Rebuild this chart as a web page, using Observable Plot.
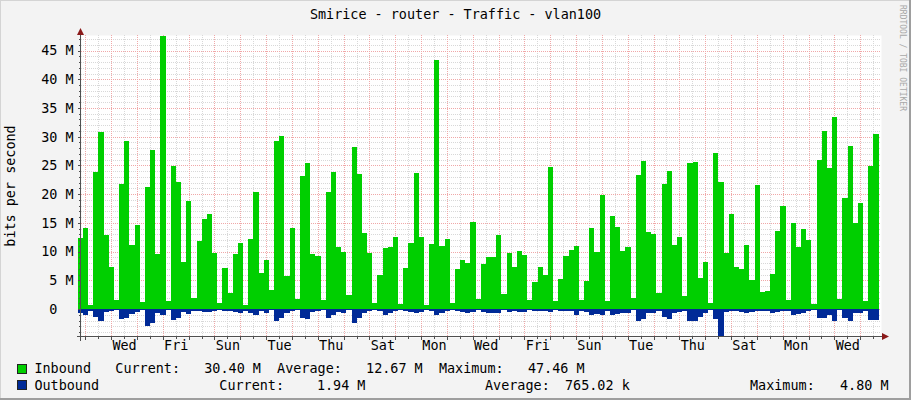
<!DOCTYPE html>
<html><head><meta charset="utf-8">
<script src="https://cdn.jsdelivr.net/npm/d3@7"></script>
<script src="https://cdn.jsdelivr.net/npm/@observablehq/plot@0.6"></script>
<style>
html,body{margin:0;padding:0;background:#F3F3F3;}
#chart{position:relative;width:911px;height:400px;overflow:hidden;}
#chart svg{display:block;}
</style></head><body><div id="chart"></div>
<script>
// Inbound traffic per consolidated sample (Mbit/s)
const inbound = [12.4,14.1,0.75,23.8,30.9,12.9,7.4,1.6,21.8,29.2,11.1,14.6,1.2,21.2,27.7,9.6,47.46,1.4,24.9,22.2,
8.2,18.8,1.9,11.8,15.7,16.5,9.7,1.0,7.1,2.8,9.6,11.5,0.75,12.2,20.4,6.3,8.5,3.3,29.2,30.1,
5.7,14.1,1.7,23.1,25.4,9.6,9.2,1.6,20.4,23.8,10.8,9.9,2.4,28.2,23.5,13.2,9.7,1.0,5.9,10.6,
10.8,12.5,0.9,7.1,11.5,23.7,12.5,0.7,11.3,43.3,11.0,12.2,1.0,7.0,8.5,8.0,15.1,1.7,7.8,9.0,
9.0,12.9,2.6,9.7,7.3,10.1,9.4,1.6,4.7,7.3,5.9,24.7,1.4,5.2,9.2,10.3,11.0,1.6,4.9,14.1,
9.9,19.8,1.4,16.2,14.3,10.1,10.8,1.9,23.3,25.8,13.4,13.1,2.8,21.8,24.0,11.1,12.5,2.3,25.4,25.6,
5.4,8.2,1.0,27.1,22.1,9.7,16.5,7.3,7.0,11.1,5.0,21.6,3.0,3.1,6.1,13.6,17.9,1.6,15.0,10.8,
13.9,12.0,0.9,25.9,31.0,24.5,33.4,1.7,19.3,28.4,15.0,18.4,1.4,24.9,30.4];
// Outbound traffic per consolidated sample (Mbit/s), drawn below zero
const outbound = [0.7,1.1,0.3,1.3,2.0,0.5,0.3,0.2,1.8,1.6,0.8,0.5,0.2,3.0,2.4,0.6,1.0,0.2,1.9,1.6,
0.5,0.9,0.35,0.4,0.5,0.5,0.4,0.2,0.3,0.4,0.5,0.75,0.3,0.75,1.1,0.4,0.7,0.2,2.1,1.5,
0.7,0.4,0.2,1.6,1.8,0.5,0.4,0.2,1.5,1.1,0.5,0.6,0.2,2.5,1.5,0.6,0.4,0.2,0.35,1.0,
0.6,0.4,0.2,0.4,0.5,0.75,0.5,0.2,0.4,1.0,0.7,0.4,0.2,0.4,0.5,0.7,0.5,0.2,0.5,0.7,
0.7,0.7,0.2,0.5,0.4,0.5,0.5,0.2,0.3,0.4,0.35,0.5,0.2,0.3,0.4,0.4,1.1,0.3,0.5,1.0,
0.9,1.0,0.3,1.1,0.8,0.65,0.65,0.2,2.0,1.8,0.7,0.6,0.35,1.3,1.7,0.6,0.5,0.3,2.0,2.1,
1.3,0.6,0.2,1.8,4.8,0.5,0.4,0.4,0.5,0.7,0.5,0.4,0.3,0.4,0.6,0.5,0.4,0.3,1.0,0.9,
0.7,0.4,0.2,1.5,1.5,1.1,2.0,0.2,1.5,2.0,0.75,0.7,0.4,1.9,1.94];
const firstSampleStart = -0.289;   // days, relative to first midnight shown
const sampleStep = 0.2;            // days per consolidated sample
const dayLabels = ["Wed","Fri","Sun","Tue","Thu","Sat","Mon","Wed","Fri","Sun","Tue","Thu","Sat","Mon","Wed"];
const dayLabelAt = [1.5,3.5,5.5,7.5,9.5,11.5,13.5,15.5,17.5,19.5,21.5,23.5,25.5,27.5,29.5];
const yTickLabels = ["0\u00a0\u00a0","5 M","10 M","15 M","20 M","25 M","30 M","35 M","40 M","45 M"];
const yMajor = [0,5,10,15,20,25,30,35,40,45];
const yMinor = [-4,-3,-2,-1,1,2,3,4,6,7,8,9,11,12,13,14,16,17,18,19,21,22,23,24,26,27,28,29,31,32,33,34,36,37,38,39,41,42,43,44,46,47];
const xMajor = [0,1,2,3,4,5,6,7,8,9,10,11,12,13,14,15,16,17,18,19,20,21,22,23,24,25,26,27,28,29,30];
const xMinor = [0.5,1.5,2.5,3.5,4.5,5.5,6.5,7.5,8.5,9.5,10.5,11.5,12.5,13.5,14.5,15.5,16.5,17.5,18.5,19.5,20.5,21.5,22.5,23.5,24.5,25.5,26.5,27.5,28.5,29.5,30.5];
const xDomain = [-0.1665, 30.806];
const yDomain = [-4.85, 47.7];
const titleText = "Smirice - router - Traffic - vlan100";
const yLabelText = "bits per second";
const watermark = "RRDTOOL / TOBI OETIKER";
const seriesNames = ["Inbound","Outbound"];
const seriesColors = ["#00CF00","#002A97"];
const legendRow1 = "Inbound   Current:   30.40 M  Average:   12.67 M  Maximum:   47.46 M";
const legendRow2Texts = ["Outbound","Current:","1.94 M","Average:","765.02 k","Maximum:","4.80 M"];

const samples = inbound.map((v, i) => ({
  t0: firstSampleStart + i * sampleStep,
  t1: firstSampleStart + (i + 1) * sampleStep,
  inb: v,
  out: -outbound[i]
}));
const ticksY = yMajor.map((v, i) => ({v, label: yTickLabels[i]}));
const ticksX = dayLabelAt.map((v, i) => ({v, label: dayLabels[i]}));

const FONT = "DejaVu Sans Mono";
const FS = 13.45;
const minorGrid = "#d8d8d8", majorGrid = "#f0a8a8";

const plot = Plot.plot({
  width: 911, height: 400,
  marginLeft: 81, marginRight: 30, marginTop: 35, marginBottom: 63,
  x: {domain: xDomain, axis: null},
  y: {domain: yDomain, axis: null},
  style: {background: "transparent", fontFamily: FONT, fontSize: FS + "px", color: "#000"},
  marks: [
    Plot.frame({fill: "#ffffff", stroke: null}),
    Plot.ruleY(yMinor, {stroke: minorGrid, strokeDasharray: "1,1", shapeRendering: "crispEdges"}),
    Plot.ruleX(xMinor, {stroke: minorGrid, strokeDasharray: "1,1", shapeRendering: "crispEdges"}),
    Plot.ruleY(yMajor, {stroke: majorGrid, strokeDasharray: "1,1", shapeRendering: "crispEdges"}),
    Plot.ruleX(xMajor, {stroke: majorGrid, strokeDasharray: "1,1", shapeRendering: "crispEdges"}),
    Plot.rect(samples, {x1: "t0", x2: "t1", y1: 0, y2: "inb", fill: seriesColors[0], shapeRendering: "crispEdges"}),
    Plot.rect(samples, {x1: "t0", x2: "t1", y1: 0, y2: "out", fill: seriesColors[1], shapeRendering: "crispEdges"}),
    Plot.text(ticksY, {y: "v", text: "label", frameAnchor: "left", textAnchor: "end", dx: -8, fill: "#000", fontSize: FS}),
    Plot.text(ticksX, {x: "v", text: "label", frameAnchor: "bottom", dy: 12.5, fill: "#000", fontSize: FS})
  ]
});
document.getElementById("chart").appendChild(plot);

// rrdtool-like decorations: axes, ticks, arrows, frame, texts
const svg = d3.select(plot);
const xs = plot.scale("x"), ys = plot.scale("y");
const X = v => xs.apply(v), Y = v => ys.apply(v);
const L = Math.round(X(xDomain[0])) - 0.5;
const B = Math.round(Y(yDomain[0])) - 0.5;
const R = X(xDomain[1]);
const T = Y(yDomain[1]);
const axisColor = "#505050", arrowColor = "#8b1a1a";
const g = svg.append("g").attr("shape-rendering", "crispEdges");
yMinor.forEach(v => g.append("line").attr("x1", L - 2).attr("x2", L).attr("y1", Math.round(Y(v)) + 0.5).attr("y2", Math.round(Y(v)) + 0.5).attr("stroke", axisColor));
yMajor.forEach(v => g.append("line").attr("x1", L - 3).attr("x2", L).attr("y1", Math.round(Y(v)) + 0.5).attr("y2", Math.round(Y(v)) + 0.5).attr("stroke", axisColor));
xMajor.forEach(v => g.append("line").attr("x1", Math.round(X(v)) + 0.5).attr("x2", Math.round(X(v)) + 0.5).attr("y1", B).attr("y2", B + 3).attr("stroke", axisColor));
xMinor.forEach(v => { if (X(v) < R) g.append("line").attr("x1", Math.round(X(v)) + 0.5).attr("x2", Math.round(X(v)) + 0.5).attr("y1", B).attr("y2", B + 2).attr("stroke", axisColor); });
g.append("line").attr("x1", L).attr("x2", L).attr("y1", B + 4).attr("y2", T - 3).attr("stroke", axisColor);
g.append("line").attr("x1", L - 4).attr("x2", R + 3).attr("y1", B).attr("y2", B).attr("stroke", axisColor);
svg.append("path").attr("d", `M${L},${T - 7}L${L - 3.5},${T}L${L + 3.5},${T}Z`).attr("fill", arrowColor);
svg.append("path").attr("d", `M${R + 8},${B}L${R + 1},${B - 3.5}L${R + 1},${B + 3.5}Z`).attr("fill", arrowColor);
// image frame shading
g.append("line").attr("x1", 0).attr("x2", 911).attr("y1", 0.5).attr("y2", 0.5).attr("stroke", "#d4d4d4");
g.append("line").attr("x1", 0.5).attr("x2", 0.5).attr("y1", 0).attr("y2", 400).attr("stroke", "#d4d4d4");
g.append("rect").attr("x", 909).attr("y", 0).attr("width", 2).attr("height", 400).attr("fill", "#9e9e9e");
g.append("rect").attr("x", 0).attr("y", 398).attr("width", 911).attr("height", 2).attr("fill", "#9e9e9e");

const txt = svg.append("g").attr("font-family", FONT).attr("font-size", FS).attr("fill", "#000").attr("text-anchor", "start");
txt.append("text").attr("x", 455.5).attr("y", 19).attr("text-anchor", "middle").text(titleText);
txt.append("text").attr("transform", "translate(15,186) rotate(-90)").attr("text-anchor", "middle").text(yLabelText);
txt.append("text").attr("transform", "translate(900,5) rotate(90)").attr("text-anchor", "start").attr("font-size", 8).attr("fill", "#a8a8a8").text(watermark);
// legend
const boxes = [[17, 364], [17, 380]];
boxes.forEach((b, i) => svg.append("rect").attr("x", b[0] + 0.5).attr("y", b[1] + 0.5).attr("width", 9).attr("height", 9)
  .attr("fill", seriesColors[i]).attr("stroke", "#222").attr("stroke-width", 1).attr("shape-rendering", "crispEdges")
  .append("title").text(seriesNames[i]));
txt.append("text").attr("x", 34.4).attr("y", 373).attr("text-anchor", "start").attr("xml:space", "preserve").style("white-space", "pre").text(legendRow1);
const row2X = [34.4, 219.3, 316.9, 485, 565, 750, 840];
legendRow2Texts.forEach((s, i) => txt.append("text").attr("x", row2X[i]).attr("y", 389.5).attr("text-anchor", "start").text(s));
</script></body></html>
